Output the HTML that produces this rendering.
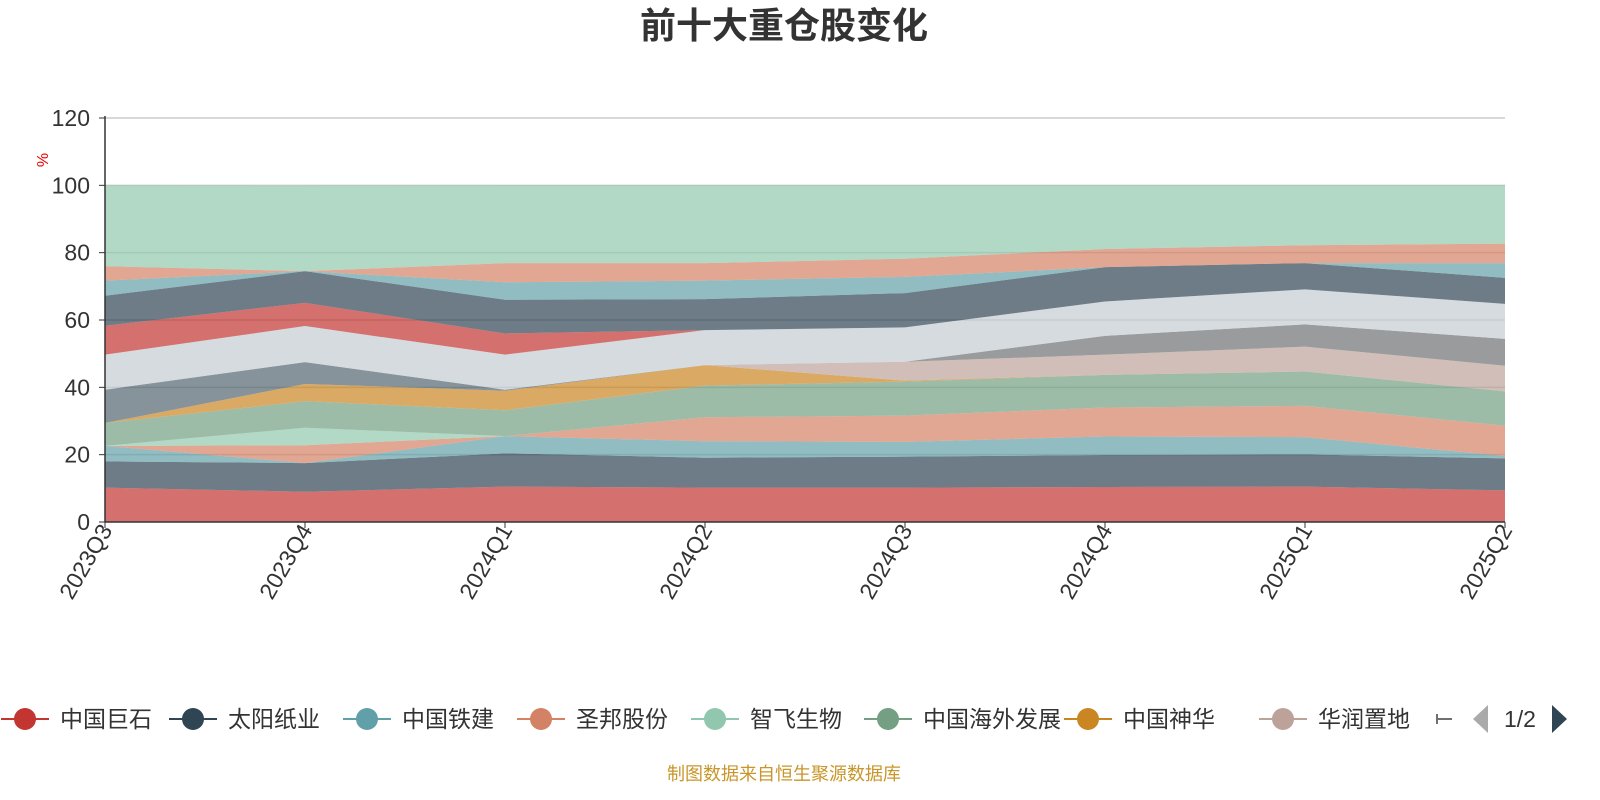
<!DOCTYPE html>
<html><head><meta charset="utf-8">
<style>
body{margin:0;background:#fff;font-family:"Liberation Sans","Noto Sans CJK SC",sans-serif;}
#wrap{position:relative;width:1600px;height:800px;overflow:hidden;}
</style></head>
<body>
<div id="wrap">
<svg id="chart" width="1600" height="800" xmlns="http://www.w3.org/2000/svg">
<text x="784" y="38" text-anchor="middle" font-size="36" font-weight="bold" fill="#333" font-family="Liberation Sans, Noto Sans CJK SC, sans-serif">前十大重仓股变化</text>
<text transform="translate(48,160) rotate(-90)" text-anchor="middle" font-size="16" fill="#e00">%</text>
<g id="grid"></g>
<g id="areas"></g>
<g id="axes"></g>
<g id="legend"></g>
<text x="784" y="780" text-anchor="middle" font-size="18" fill="#c8962a" font-family="Liberation Sans, Noto Sans CJK SC, sans-serif">制图数据来自恒生聚源数据库</text>
</svg>
</div>
<script>
const categories = ["2023Q3","2023Q4","2024Q1","2024Q2","2024Q3","2024Q4","2025Q1","2025Q2"];
const yTicks = [0,20,40,60,80,100,120];
const seriesNames = ["中国巨石","太阳纸业","中国铁建","圣邦股份","智飞生物","中国海外发展","中国神华","华润置地","s9","s10","s11","s12","s13","s14","s15","s16"];
const s1  = [10.2,9.0,10.5,10.2,10.2,10.4,10.5,9.4];
const s2  = [7.8,8.5,9.9,8.9,9.2,9.5,9.6,9.5];
const s3  = [4.6,0,5.1,4.9,4.4,5.5,5.1,0.7];
const s4  = [0,5.3,0,7.1,7.8,8.6,9.3,9.0];
const s5  = [0,5.2,0,0,0,0,0,0];
const s6  = [6.8,7.9,7.7,9.4,10.1,9.7,10.2,10.2];
const s7  = [0,5.1,5.8,6.1,0.3,0,0,0];
const s8  = [0,0,0,0,5.6,6.0,7.4,7.6];
const s9  = [0,0,0,0,0,5.6,6.6,8.0];
const s10 = [9.9,6.5,0.3,0,0,0,0,0];
const s11 = [10.4,10.7,10.4,10.4,10.2,10.2,10.4,10.4];
const s12 = [8.6,6.9,6.3,0,0,0,0,0];
const s13 = [8.9,9.4,10.0,9.2,10.2,10.2,7.8,7.7];
const s14 = [4.5,0,5.2,5.5,4.8,0,0,4.4];
const s15 = [4.3,0,5.7,5.2,5.4,5.4,5.3,5.8];
const s16 = [24.0,25.4,23.1,23.1,21.8,18.9,17.8,17.3];
const seriesValues = [s1,s2,s3,s4,s5,s6,s7,s8,s9,s10,s11,s12,s13,s14,s15,s16];
const palette = ['#c23531','#2f4554','#61a0a8','#d48265','#91c7ae','#749f83','#ca8622','#bda29a','#6e7074','#546570','#c4ccd3'];

const NS = "http://www.w3.org/2000/svg";
const X0=105, X1=1505, Y0=522, YMAX=120, YTOP=118;
const xScale = i => X0 + i*(X1-X0)/(categories.length-1);
const yScale = v => Y0 - v*(Y0-YTOP)/YMAX;
function mk(tag, attrs, parent){const e=document.createElementNS(NS,tag);for(const k in attrs)e.setAttribute(k,attrs[k]);parent.appendChild(e);return e;}

const grid=document.getElementById('grid');
yTicks.forEach(t=>{ if(t>0){const l=mk('line',{x1:X0,x2:X1,y1:yScale(t),y2:yScale(t),stroke:'#ccc','stroke-width':1.5},grid);

}});

const areas=document.getElementById('areas');
let base = categories.map(()=>0);
seriesValues.forEach((vals,si)=>{
  const top = base.map((b,i)=>b+vals[i]);
  let d='M'+categories.map((c,i)=>xScale(i)+','+yScale(top[i])).join(' L');
  for(let i=categories.length-1;i>=0;i--) d+=' L'+xScale(i)+','+yScale(base[i]);
  d+=' Z';
  const p=mk('path',{d:d,fill:palette[si%palette.length],'fill-opacity':0.7},areas);
  
  
  base=top;
});

const axes=document.getElementById('axes');
mk('line',{x1:X0,x2:X0,y1:YTOP-2,y2:Y0,stroke:'#333','stroke-width':1.5},axes);
mk('line',{x1:X0,x2:X1,y1:Y0,y2:Y0,stroke:'#333','stroke-width':1.5},axes);
yTicks.forEach(t=>{
  mk('line',{x1:X0-6,x2:X0,y1:yScale(t),y2:yScale(t),stroke:'#333'},axes);
  const tx=mk('text',{x:X0-15,y:yScale(t)+8,'text-anchor':'end','font-size':23,fill:'#333'},axes);
  tx.textContent=t;
  
  
});
categories.forEach((c,i)=>{
  const x=xScale(i);
  mk('line',{x1:x,x2:x,y1:Y0,y2:Y0+6,stroke:'#333'},axes);
  const tx=mk('text',{transform:`translate(${x+8},${Y0+8}) rotate(-60)`,'text-anchor':'end','font-size':23,fill:'#333'},axes);
  tx.textContent=c;
  
  
});

const legend=document.getElementById('legend');
const legItems=[["中国巨石",25],["太阳纸业",193],["中国铁建",367],["圣邦股份",541],["智飞生物",715],["中国海外发展",888],["中国神华",1088],["华润置地",1283]];
legItems.forEach((it,i)=>{
  const g=mk('g',{},legend);
  
  
  const col=palette[i];
  mk('line',{x1:it[1]-24,x2:it[1]+24,y1:719,y2:719,stroke:col,'stroke-width':2},g);
  mk('circle',{cx:it[1],cy:719,r:11,fill:col},g);
  const t=mk('text',{x:it[1]+35,y:727,'font-size':23,fill:'#333'},g);
  t.textContent=it[0];
});
mk('line',{x1:1437,x2:1452,y1:719,y2:719,stroke:'#6e7074','stroke-width':2},legend);
mk('line',{x1:1437,x2:1437,y1:714,y2:724,stroke:'#6e7074','stroke-width':2},legend);
const pl=mk('path',{d:'M1488,705 L1488,733 L1473,719 Z',fill:'#aaa'},legend);


const pt=mk('text',{x:1520,y:727,'text-anchor':'middle','font-size':23,fill:'#333'},legend);
pt.textContent='1/2';


const pn=mk('path',{d:'M1552,705 L1552,733 L1567,719 Z',fill:'#2f4554'},legend);


</script>
</body></html>
